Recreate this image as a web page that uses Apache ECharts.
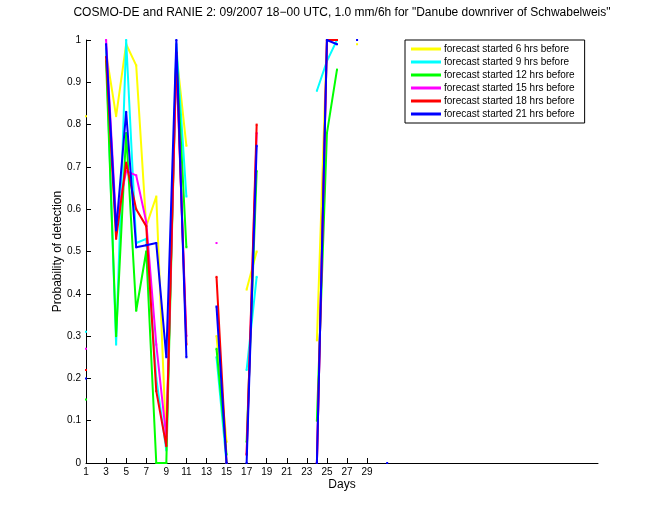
<!DOCTYPE html>
<html>
<head>
<meta charset="utf-8">
<script src="https://cdn.jsdelivr.net/npm/echarts@6/dist/echarts.min.js"></script>
<style>
html,body{margin:0;padding:0;background:#fff;}
#chart{width:660px;height:520px;}
</style>
</head>
<body>
<div id="chart"></div>
<script>
// Days 1..31
var days = [1,2,3,4,5,6,7,8,9,10,11,12,13,14,15,16,17,18,19,20,21,22,23,24,25,26,27,28,29,30,31];
var xTickValues = [1,3,5,7,9,11,13,15,17,19,21,23,25,27,29];
var seriesNames = [
  'forecast started 6 hrs before',
  'forecast started 9 hrs before',
  'forecast started 12 hrs before',
  'forecast started 15 hrs before',
  'forecast started 18 hrs before',
  'forecast started 21 hrs before'
];
var N = null;
var pod6  = [0.82,N,0.97,0.82,0.99,0.94,0.56,0.63,0.04,0.97,0.75,N,N,0.30,0.05,N,0.41,0.50,N,N,N,N,N,0.29,1.00,N,N,0.99,N,N,N];
var pod9  = [0.31,N,0.98,0.28,1.00,0.52,0.53,0.20,0.03,0.99,0.63,N,N,0.25,0.00,N,0.22,0.44,N,N,N,N,N,0.88,0.95,1.00,N,N,N,N,N];
var pod12 = [0.15,N,0.95,0.30,0.78,0.36,0.50,0.00,0.00,0.97,0.51,N,N,0.27,0.02,N,0.05,0.69,N,N,N,N,N,0.10,0.78,0.93,N,N,N,N,N];
var pod15 = [0.27,N,1.00,0.57,0.69,0.68,0.57,0.28,0.06,0.95,0.30,N,N,0.52,N,N,0.02,0.78,N,N,N,N,N,0.00,1.00,1.00,N,N,N,N,N];
var pod18 = [0.22,N,0.96,0.53,0.71,0.60,0.56,0.17,0.04,0.97,0.28,N,N,0.44,0.00,N,0.02,0.80,N,N,N,N,N,0.00,1.00,1.00,N,N,N,N,N];
var pod21 = [0.20,N,0.99,0.55,0.83,0.51,0.515,0.52,0.25,1.00,0.25,N,N,0.37,0.00,N,0.00,0.75,N,N,N,N,N,0.00,1.00,0.99,N,1.00,N,N,0.00];
var seriesValues = [pod6, pod9, pod12, pod15, pod18, pod21];
var colors = ['#ffff00','#00ffff','#00ff00','#ff00ff','#ff0000','#0000ff'];

var series = seriesValues.map(function(vals, i){
  return {
    name: seriesNames[i],
    type: 'line',
    data: days.map(function(d, j){ return [d, vals[j] === null ? '-' : vals[j]]; }),
    connectNulls: false,
    showSymbol: true,
    symbol: 'rect',
    symbolSize: 2,
    itemStyle: {color: colors[i]},
    lineStyle: {color: colors[i], width: 2},
    emphasis: {disabled: true},
    animation: false,
    z: 2 + i
  };
});

var chart = echarts.init(document.getElementById('chart'), null, {renderer: 'canvas'});
chart.setOption({
  animation: false,
  backgroundColor: '#ffffff',
  textStyle: {fontFamily: 'Liberation Sans, Arial, Helvetica, sans-serif'},
  grid: {left: 86, right: 62, top: 40, bottom: 57, containLabel: false},
  graphic: [{
    type: 'text',
    x: 342, y: 13,
    style: {
      text: 'COSMO-DE and RANIE 2: 09/2007 18\u221200 UTC, 1.0 mm/6h for "Danube downriver of Schwabelweis"',
      fill: '#000', font: '12px "Liberation Sans", Arial, sans-serif',
      textAlign: 'center', textVerticalAlign: 'middle'
    }
  }],
  legend: {
    orient: 'vertical',
    left: 405, top: 40,
    width: 178,
    padding: [4, 10, 4, 6],
    itemGap: 3,
    itemWidth: 30,
    itemHeight: 3,
    icon: 'rect',
    borderColor: '#000',
    borderWidth: 1,
    backgroundColor: '#fff',
    textStyle: {fontSize: 10, color: '#000', padding: [0,0,0,-2]},
    data: seriesNames.map(function(n, i){ return {name: n, itemStyle: {color: colors[i]}}; })
  },
  xAxis: {
    type: 'value',
    min: 1, max: 52,
    name: 'Days',
    nameLocation: 'middle',
    nameGap: 16,
    nameMoveOverlap: false,
    nameTextStyle: {fontSize: 12, color: '#000'},
    axisLine: {onZero: false, lineStyle: {color: '#000', width: 1}},
    axisTick: {show: true, inside: true, length: 5, customValues: xTickValues, lineStyle: {color: '#000'}},
    axisLabel: {customValues: xTickValues, fontSize: 10, color: '#000', margin: 4},
    splitLine: {show: false}
  },
  yAxis: {
    type: 'value',
    min: 0, max: 1, interval: 0.1,
    name: 'Probability of detection',
    nameLocation: 'middle',
    nameGap: 22,
    nameMoveOverlap: false,
    nameTextStyle: {fontSize: 12, color: '#000'},
    axisLine: {show: true, lineStyle: {color: '#000', width: 1}},
    axisTick: {show: true, inside: true, length: 5, lineStyle: {color: '#000'}},
    axisLabel: {fontSize: 10, color: '#000', margin: 5, formatter: function(v){ return String(Math.round(v*10)/10); }},
    splitLine: {show: false}
  },
  series: series
});
</script>
</body>
</html>
